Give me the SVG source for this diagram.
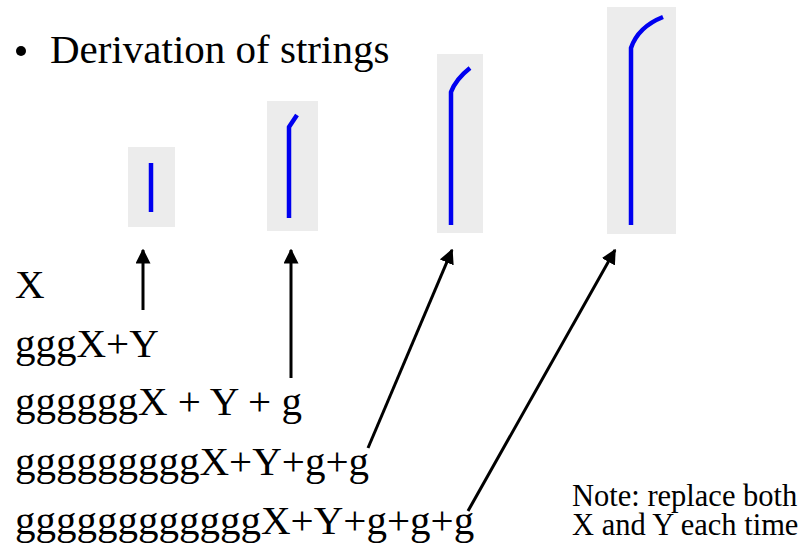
<svg xmlns="http://www.w3.org/2000/svg" width="804" height="546" viewBox="0 0 804 546">
<style>
.t{font-family:"Liberation Serif","Times New Roman",serif;fill:#000}
.big{font-size:41px}
.note{font-size:30.5px}
.panel{fill:#ececec}
.plant{fill:none;stroke:#0000f0;stroke-width:4.5;stroke-linejoin:round}
.arr{fill:none;stroke:#000;stroke-width:3;marker-end:url(#ah)}
</style>
<defs>
<marker id="ah" markerWidth="5" markerHeight="5" refX="4.5" refY="2.5" orient="auto" markerUnits="strokeWidth">
<path d="M0,0 L5,2.5 L0,5 Z" fill="#000"/>
</marker>
</defs>
<rect width="804" height="546" fill="#fff"/>
<g id="title">
<circle cx="21" cy="51" r="5" fill="#000"/>
<text class="t big" x="50" y="63">Derivation of strings</text>
</g>
<g id="panel1">
<rect class="panel" x="128" y="147" width="47" height="80"/>
<path class="plant" d="M151,212 L151,163"/>
</g>
<g id="panel2">
<rect class="panel" x="267" y="101" width="51" height="130"/>
<path class="plant" d="M289,218 L289,127 L297,115"/>
</g>
<g id="panel3">
<rect class="panel" x="437" y="54" width="46" height="179"/>
<path class="plant" d="M451,225 L451,92 Q456,79 470,68"/>
</g>
<g id="panel4">
<rect class="panel" x="607" y="7" width="69" height="227"/>
<path class="plant" d="M631,225 L631,48 Q638,27 663,17"/>
</g>
<g id="strings">
<text class="t big" x="15" y="298">X</text>
<text class="t big" x="15" y="357">gggX+Y</text>
<text class="t big" x="15" y="415" xml:space="preserve">ggggggX + Y + g</text>
<text class="t big" x="15" y="475">gggggggggX+Y+g+g</text>
<text class="t big" x="15" y="534">ggggggggggggX+Y+g+g+g</text>
</g>
<g id="note">
<text class="t note" x="572" y="506">Note: replace both</text>
<text class="t note" x="572" y="535">X and Y each time</text>
</g>
<g id="connectors">
<path class="arr" d="M143,310 L143,250"/>
<path class="arr" d="M291,378 L291,250"/>
<path class="arr" d="M368,448 L452,250"/>
<path class="arr" d="M468,511 L615,250"/>
</g>
</svg>
